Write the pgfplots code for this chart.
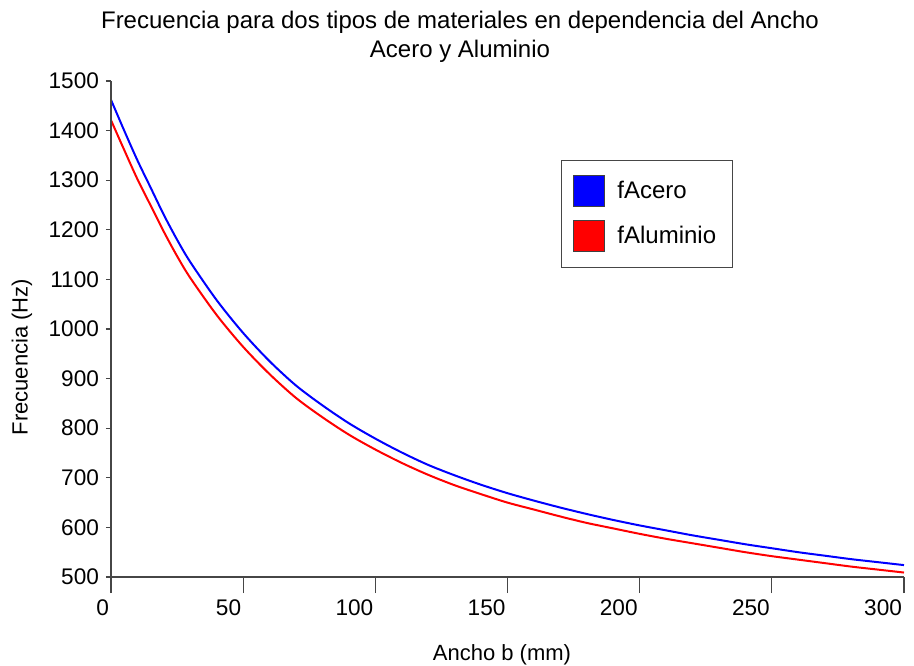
\documentclass[border=0pt]{standalone}
\usepackage{pgfplots}
\pgfplotsset{compat=1.18}
\usepackage{fontspec}
\setmainfont{Liberation Sans}
\definecolor{axisgray}{RGB}{70,70,70}
\begin{document}
\begin{tikzpicture}
\path[use as bounding box] (-55.5pt,-44pt) rectangle (401.5pt,288.5pt);
\begin{axis}[
  scale only axis,
  width=396.5pt, height=248pt,
  xmin=0, xmax=300, ymin=500, ymax=1500,
  axis x line=bottom, axis y line=left,
  axis line style={-, draw=axisgray, line width=0.6pt},
  xtick={0,50,...,300}, ytick={500,600,...,1500},
  tick align=outside,
  major tick length=8pt,
  x tick style={draw=axisgray, line width=0.6pt},
  y tick style={draw=none},
  /pgf/number format/assume math mode=true,
  /pgf/number format/1000 sep={},
  ticklabel style={font=\fontsize{11.3}{13}\selectfont, text=black},
  xticklabel style={anchor=north east, xshift=2.5pt},
  yticklabel style={xshift=5.5pt},
  xlabel={Ancho b (mm)},
  ylabel={Frecuencia (Hz)},
  label style={font=\fontsize{11}{13}\selectfont},
  xlabel style={at={(axis description cs:0.493,-0.157)}, anchor=center},
  ylabel style={at={(axis description cs:-0.1122,0.4435)}, anchor=center},
  legend style={at={(rel axis cs:0.5675,0.8407)}, anchor=north west,
    draw=axisgray, fill=white, font=\fontsize{12}{14}\selectfont,
    inner xsep=6pt, inner ysep=7.5pt, row sep=6.5pt, cells={anchor=west}},
  legend cell align=left,
  clip=false,
]
\addplot[blue, line width=1pt, smooth, forget plot] coordinates {
(0,1462) (5,1400) (10,1340) (15,1285) (20,1230) (25,1180) (30,1135)
(40,1058) (50,992) (60,935) (70,886) (80,846) (90,810) (100,779)
(110,751) (120,726) (130,705) (140,686) (150,669) (160,654) (170,640)
(180,627) (190,615) (200,604) (210,594) (220,584) (230,575) (240,566)
(250,558) (260,550) (270,543) (280,536) (290,530) (300,524)
};
\addplot[red, line width=1pt, smooth, forget plot] coordinates {
(0,1421) (5,1361) (10,1302) (15,1249) (20,1196) (25,1147) (30,1103)
(40,1028) (50,964) (60,909) (70,861) (80,822) (90,787) (100,757)
(110,730) (120,706) (130,685) (140,667) (150,650) (160,636) (170,622)
(180,609) (190,598) (200,587) (210,577) (220,568) (230,559) (240,550)
(250,542) (260,535) (270,528) (280,521) (290,515) (300,509)
};
\addlegendimage{legend image code/.code={\draw[fill=blue, draw=black!75, line width=0.5pt] (0pt,-7.75pt) rectangle (15.5pt,7.75pt);}}
\addlegendentry{\hspace{4pt}fAcero}
\addlegendimage{legend image code/.code={\draw[fill=red, draw=black!75, line width=0.5pt] (0pt,-7.75pt) rectangle (15.5pt,7.75pt);}}
\addlegendentry{\hspace{4pt}fAluminio}
\node[font=\fontsize{12}{14}\selectfont, anchor=base] at (rel axis cs:0.4401,1.1049) {Frecuencia para dos tipos de materiales en dependencia del Ancho};
\node[font=\fontsize{12}{14}\selectfont, anchor=base] at (rel axis cs:0.4401,1.0464) {Acero y Aluminio};
\end{axis}
\begin{axis}[
  scale only axis,
  width=396.5pt, height=248pt,
  xmin=0, xmax=300, ymin=500, ymax=1500,
  axis x line=none, axis y line=left,
  axis line style={-, draw=axisgray, line width=0.6pt},
  xtick=\empty, ytick={500,600,...,1500}, yticklabels={},
  tick align=outside,
  major tick length=2.5pt,
  y tick style={draw=axisgray, line width=0.6pt},
]
\end{axis}
\end{tikzpicture}
\end{document}
